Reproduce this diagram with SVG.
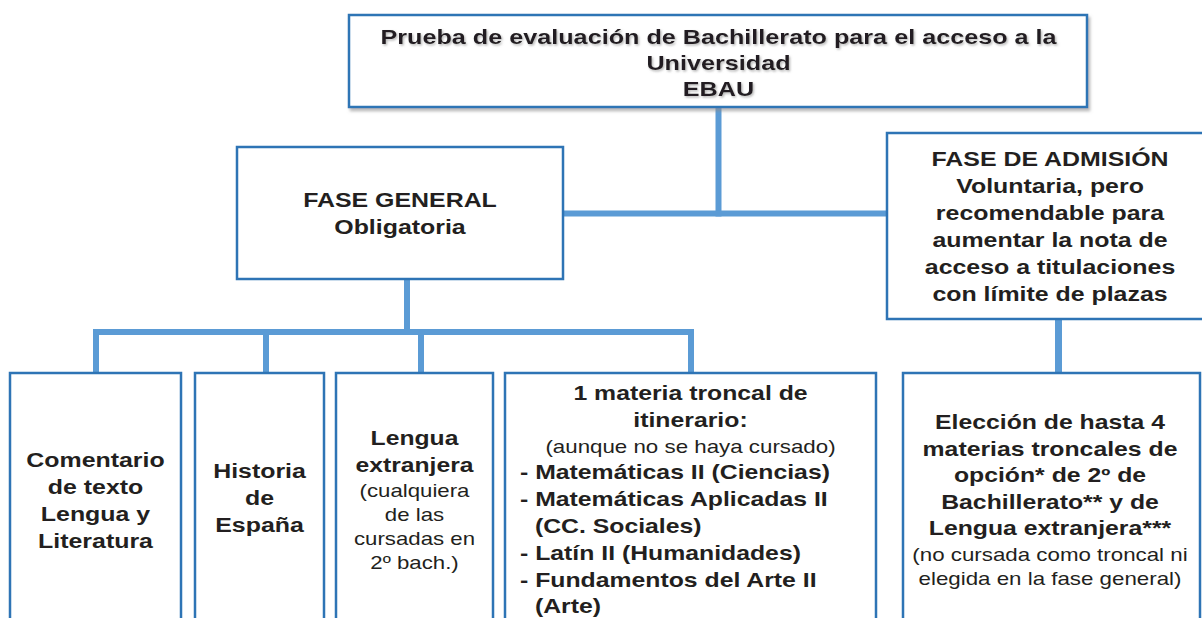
<svg xmlns="http://www.w3.org/2000/svg" width="1202" height="618" viewBox="0 0 1202 618">
  <defs>
    <style>
      .box { fill: #ffffff; stroke: #2E74B5; stroke-width: 2.5; }
      .con { stroke: #5B9BD5; stroke-width: 6; fill: none; stroke-linecap: butt; }
      .b { font-family: "Liberation Sans", Arial, sans-serif; font-weight: bold; font-size: 20px; fill: #231F20; text-anchor: middle; }
      .n { font-family: "Liberation Sans", Arial, sans-serif; font-weight: normal; font-size: 18px; fill: #231F20; text-anchor: middle; }
      .l { text-anchor: start; }
    </style>
    <filter id="boxShadow" x="-5%" y="-10%" width="112%" height="130%">
      <feDropShadow dx="2" dy="3" stdDeviation="1.5" flood-color="#8c8c8c" flood-opacity="0.6"/>
    </filter>
    <filter id="textShadow" x="-5%" y="-20%" width="110%" height="150%">
      <feDropShadow dx="1" dy="1.5" stdDeviation="1" flood-color="#777777" flood-opacity="0.55"/>
    </filter>
  </defs>
  <rect width="1202" height="618" fill="#ffffff"/>

  <g id="connectors">
    <line class="con" x1="718.5" y1="107" x2="718.5" y2="216.5"/>
    <line class="con" x1="563" y1="213.5" x2="888" y2="213.5"/>
    <line class="con" x1="407" y1="279" x2="407" y2="332"/>
    <line class="con" x1="93" y1="332" x2="694" y2="332"/>
    <line class="con" x1="96" y1="329" x2="96" y2="373"/>
    <line class="con" x1="266" y1="329" x2="266" y2="373"/>
    <line class="con" x1="421" y1="329" x2="421" y2="373"/>
    <line class="con" x1="691" y1="329" x2="691" y2="373"/>
    <line class="con" x1="1058.5" y1="319" x2="1058.5" y2="373" style="stroke-width:7"/>
  </g>

  <g id="node-ebau">
    <rect class="box" x="349" y="15" width="738" height="92" filter="url(#boxShadow)"/>
    <g transform="translate(718.5 0) scale(1.26 1)" filter="url(#textShadow)">
      <text class="b" x="0" y="44">Prueba de evaluación de Bachillerato para el acceso a la</text>
      <text class="b" x="0" y="70">Universidad</text>
      <text class="b" x="0" y="96">EBAU</text>
    </g>
  </g>

  <g id="node-fase-general">
    <rect class="box" x="237" y="147" width="326" height="132"/>
    <g transform="translate(400 0) scale(1.245 1)">
      <text class="b" x="0" y="207">FASE GENERAL</text>
      <text class="b" x="0" y="234">Obligatoria</text>
    </g>
  </g>

  <g id="node-fase-admision">
    <rect class="box" x="887" y="133" width="330" height="186"/>
    <g transform="translate(1050 0) scale(1.245 1)">
      <text class="b" x="0" y="166">FASE DE ADMISIÓN</text>
      <text class="b" x="0" y="193">Voluntaria, pero</text>
      <text class="b" x="0" y="220">recomendable para</text>
      <text class="b" x="0" y="247">aumentar la nota de</text>
      <text class="b" x="0" y="274">acceso a titulaciones</text>
      <text class="b" x="0" y="301">con límite de plazas</text>
    </g>
  </g>

  <g id="node-comentario">
    <rect class="box" x="10" y="373" width="171" height="260"/>
    <g transform="translate(95.5 0) scale(1.245 1)">
      <text class="b" x="0" y="467">Comentario</text>
      <text class="b" x="0" y="494">de texto</text>
      <text class="b" x="0" y="521">Lengua y</text>
      <text class="b" x="0" y="548">Literatura</text>
    </g>
  </g>

  <g id="node-historia">
    <rect class="box" x="195" y="373" width="129" height="260"/>
    <g transform="translate(259.5 0) scale(1.245 1)">
      <text class="b" x="0" y="478">Historia</text>
      <text class="b" x="0" y="505">de</text>
      <text class="b" x="0" y="532">España</text>
    </g>
  </g>

  <g id="node-lengua-extranjera">
    <rect class="box" x="336" y="373" width="157" height="260"/>
    <g transform="translate(414.5 0) scale(1.235 1)">
      <text class="b" x="0" y="445">Lengua</text>
      <text class="b" x="0" y="472">extranjera</text>
      <text class="n" x="0" y="497">(cualquiera</text>
      <text class="n" x="0" y="521">de las</text>
      <text class="n" x="0" y="545">cursadas en</text>
      <text class="n" x="0" y="569">2º bach.)</text>
    </g>
  </g>

  <g id="node-materia-troncal">
    <rect class="box" x="505" y="373" width="371" height="260"/>
    <g transform="translate(690.5 0) scale(1.24 1)">
      <text class="b" x="0" y="400">1 materia troncal de</text>
      <text class="b" x="0" y="427">itinerario:</text>
      <text class="n" x="0" y="453">(aunque no se haya cursado)</text>
      <text class="b l" x="-137.5" y="479">- Matemáticas II (Ciencias)</text>
      <text class="b l" x="-137.5" y="506">- Matemáticas Aplicadas II</text>
      <text class="b l" x="-125.5" y="533">(CC. Sociales)</text>
      <text class="b l" x="-137.5" y="560">- Latín II (Humanidades)</text>
      <text class="b l" x="-137.5" y="587">- Fundamentos del Arte II</text>
      <text class="b l" x="-125.5" y="613">(Arte)</text>
    </g>
  </g>

  <g id="node-eleccion">
    <rect class="box" x="903" y="373" width="297" height="260"/>
    <g transform="translate(1050 0) scale(1.24 1)">
      <text class="b" x="0" y="429">Elección de hasta 4</text>
      <text class="b" x="0" y="456">materias troncales de</text>
      <text class="b" x="0" y="482">opción* de 2º de</text>
      <text class="b" x="0" y="509">Bachillerato** y de</text>
      <text class="b" x="0" y="535">Lengua extranjera***</text>
      <text class="n" x="0" y="561">(no cursada como troncal ni</text>
      <text class="n" x="0" y="585">elegida en la fase general)</text>
    </g>
  </g>
</svg>
